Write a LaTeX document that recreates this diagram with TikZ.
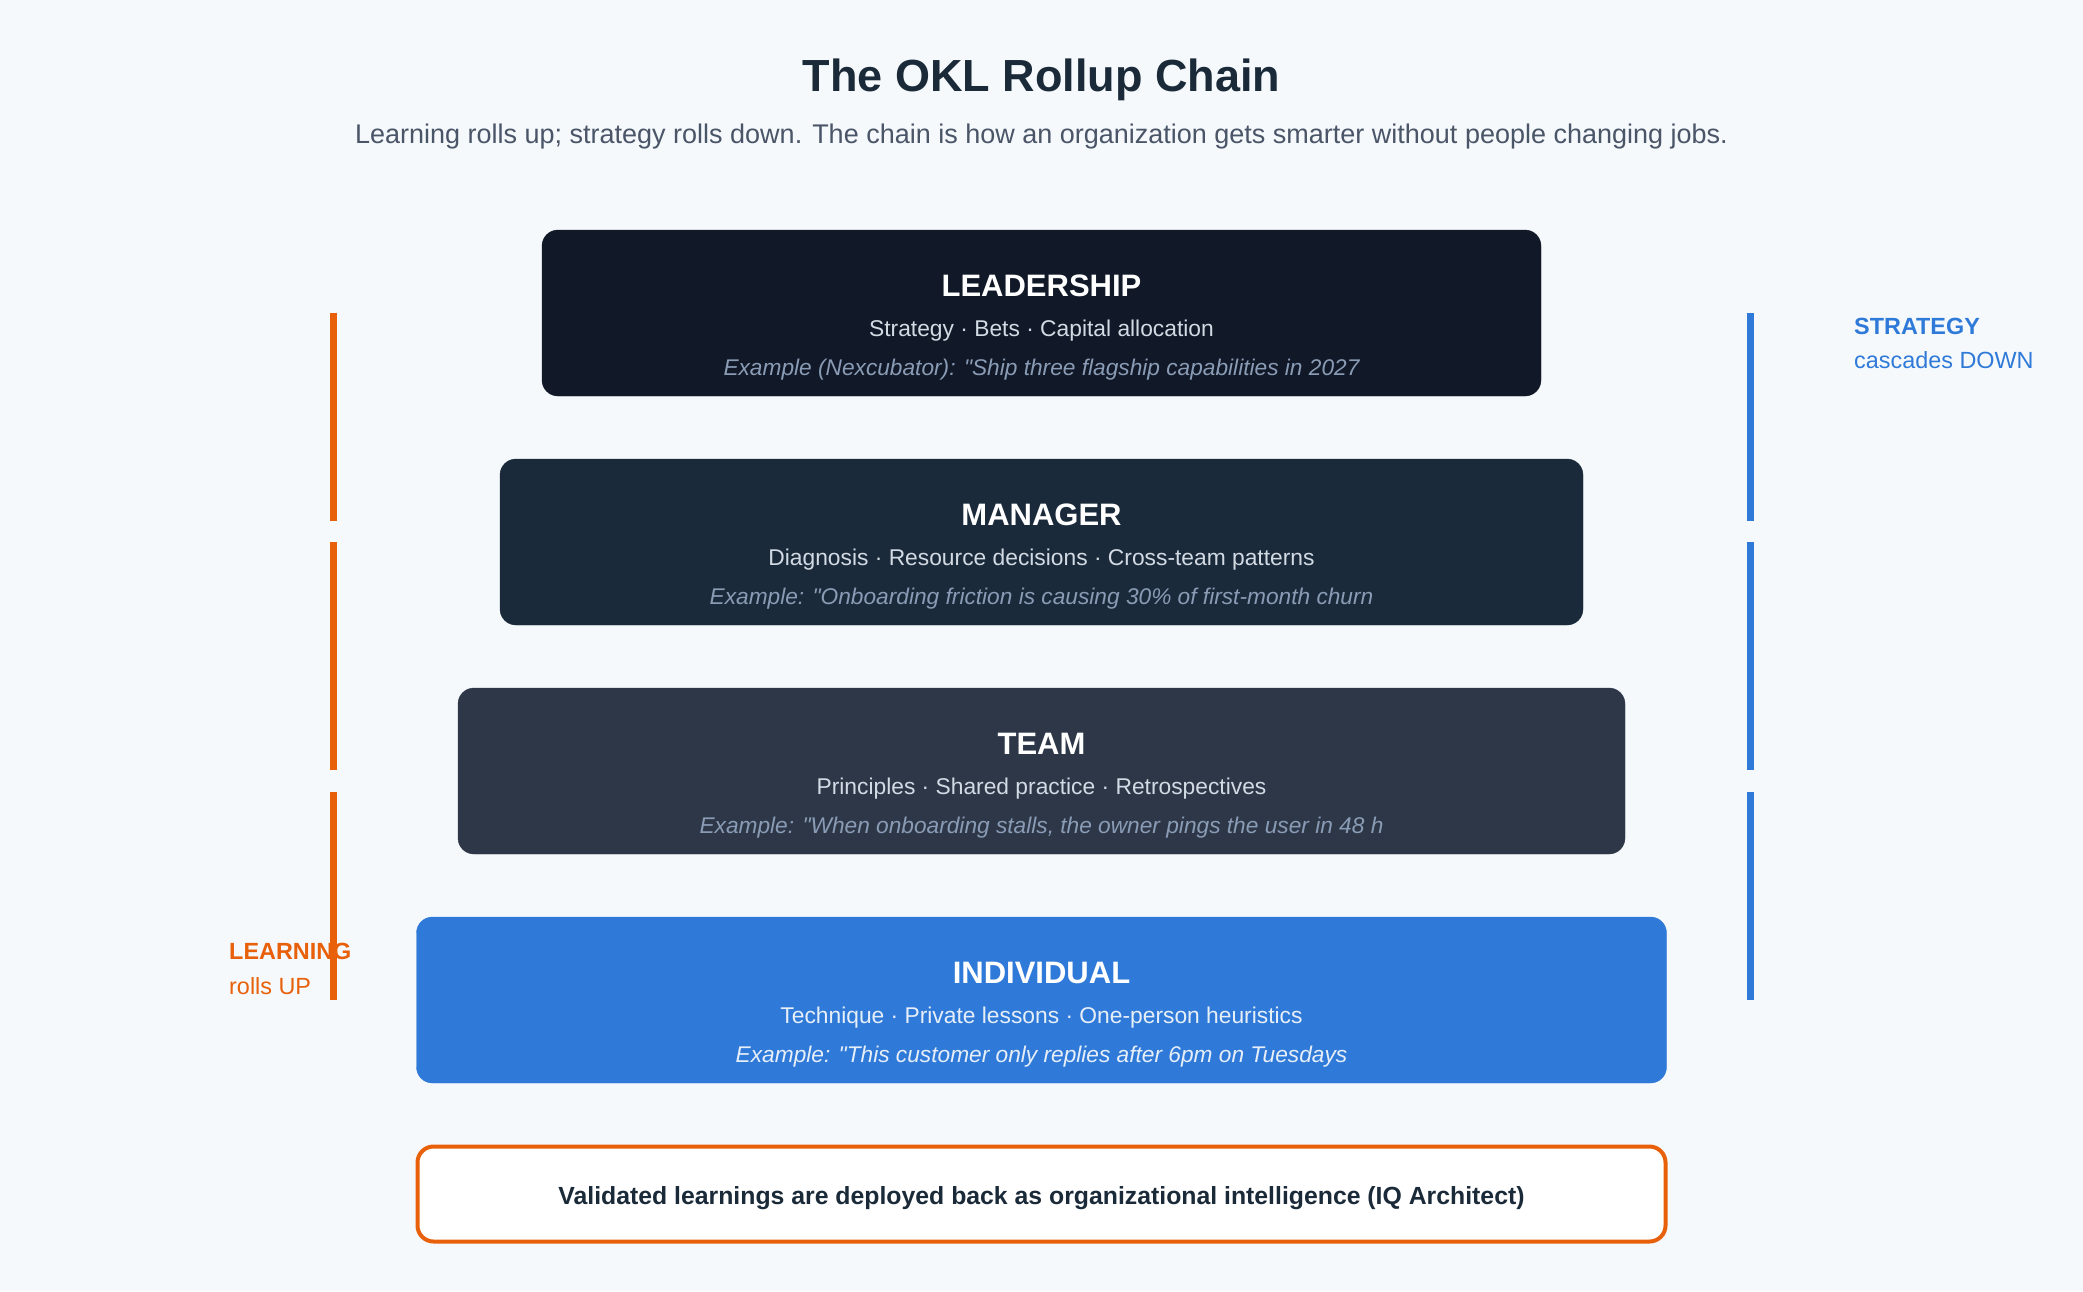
\documentclass[tikz,border=0pt]{standalone}
\usepackage{fontspec}
\setmainfont{Liberation Sans}
\definecolor{bgc}{HTML}{F5F9FC}
\definecolor{titlec}{HTML}{1B2A38}
\definecolor{subc}{HTML}{4A5568}
\definecolor{leadc}{HTML}{111827}
\definecolor{mgrc}{HTML}{1B2A3A}
\definecolor{teamc}{HTML}{2D3748}
\definecolor{indc}{HTML}{2F7AD8}
\definecolor{orc}{HTML}{E8600A}
\definecolor{blc}{HTML}{2F7AD8}
\definecolor{linec}{HTML}{D2DAE4}
\definecolor{exc}{HTML}{8A9CB5}
\definecolor{indsub}{HTML}{E6EEF8}
\tikzset{
  tier/.style={rounded corners=16pt, minimum height=166pt, inner sep=0pt},
  tiertitle/.style={font=\fontsize{31}{36}\selectfont\bfseries, text=white, anchor=center},
  tiersub/.style={font=\fontsize{22.8}{26}\selectfont, text=linec, anchor=center},
  tierex/.style={font=\fontsize{22.7}{26}\selectfont\itshape, text=exc, anchor=center},
  sidelab/.style={anchor=west, inner sep=0pt, font=\fontsize{23.4}{27}\selectfont},
  orbar/.style={draw=orc, line width=7pt},
  blbar/.style={draw=blc, line width=7pt},
}
\begin{document}
\begin{tikzpicture}[x=1pt,y=-1pt]
\fill[bgc] (0,0) rectangle (2083,1291);
\useasboundingbox (0,0) rectangle (2083,1291);
% title
\node[font=\fontsize{45}{50}\selectfont\bfseries, text=titlec] (title) at (1041.5,80) {The OKL Rollup Chain};
\node[font=\fontsize{27}{31}\selectfont, text=subc] (subtitle) at (1041.5,137) {Learning rolls up; strategy rolls down. The chain is how an organization gets smarter without people changing jobs.};
% tiers
\node[tier, fill=leadc, draw=leadc, minimum width=999pt] (lead) at (1041.5,313) {};
\node[tiertitle] (leadt) at (1041.5,285.5) {LEADERSHIP};
\node[tiersub] (leads) at (1041.5,331) {Strategy · Bets · Capital allocation};
\node[tierex] (leade) at (1041.5,370) {Example (Nexcubator): \textquotedbl Ship three flagship capabilities in 2027};

\node[tier, fill=mgrc, draw=mgrc, minimum width=1083pt] (mgr) at (1041.5,542) {};
\node[tiertitle] (mgrt) at (1041.5,514.5) {MANAGER};
\node[tiersub] (mgrs) at (1041.5,560) {Diagnosis · Resource decisions · Cross-team patterns};
\node[tierex] (mgre) at (1041.5,599) {Example: \textquotedbl Onboarding friction is causing 30\% of first-month churn};

\node[tier, fill=teamc, draw=teamc, minimum width=1167pt] (team) at (1041.5,771) {};
\node[tiertitle] (teamt) at (1041.5,743.5) {TEAM};
\node[tiersub] (teams) at (1041.5,789) {Principles · Shared practice · Retrospectives};
\node[tierex] (teame) at (1041.5,828) {Example: \textquotedbl When onboarding stalls, the owner pings the user in 48 h};

\node[tier, fill=indc, draw=indc, minimum width=1250pt] (ind) at (1041.5,1000) {};
\node[tiertitle] (indt) at (1041.5,972.5) {INDIVIDUAL};
\node[tiersub, text=indsub] (inds) at (1041.5,1018) {Technique · Private lessons · One-person heuristics};
\node[tierex, text=indsub] (inde) at (1041.5,1057) {Example: \textquotedbl This customer only replies after 6pm on Tuesdays};

% bottom box
\node[rounded corners=16pt, fill=white, draw=orc, line width=4pt, minimum width=1248pt, minimum height=95pt, text=titlec] (deploy) at (1041.5,1194) {};
\node[font=\fontsize{24.8}{29}\selectfont\bfseries, text=titlec] (deployt) at (1041.5,1198) {Validated learnings are deployed back as organizational intelligence (IQ Architect)};

% side bars
\coordinate (o1a) at (333.5,313); \coordinate (o1b) at (333.5,521);
\coordinate (o2a) at (333.5,542); \coordinate (o2b) at (333.5,770);
\coordinate (o3a) at (333.5,792); \coordinate (o3b) at (333.5,1000);
\draw[orbar] (o1a) -- (o1b);
\draw[orbar] (o2a) -- (o2b);
\draw[orbar] (o3a) -- (o3b);
\coordinate (b1a) at (1750.5,313); \coordinate (b1b) at (1750.5,521);
\coordinate (b2a) at (1750.5,542); \coordinate (b2b) at (1750.5,770);
\coordinate (b3a) at (1750.5,792); \coordinate (b3b) at (1750.5,1000);
\draw[blbar] (b1a) -- (b1b);
\draw[blbar] (b2a) -- (b2b);
\draw[blbar] (b3a) -- (b3b);

% side labels
\node[sidelab, font=\fontsize{23.4}{27}\selectfont\bfseries, text=orc] (learn) at (229,951) {LEARNING};
\node[sidelab, text=orc] (rollsup) at (229,986) {rolls UP};
\node[sidelab, font=\fontsize{23.4}{27}\selectfont\bfseries, text=blc] (strat) at (1854,326) {STRATEGY};
\node[sidelab, text=blc] (casc) at (1854,360) {cascades DOWN};
\end{tikzpicture}
\end{document}
